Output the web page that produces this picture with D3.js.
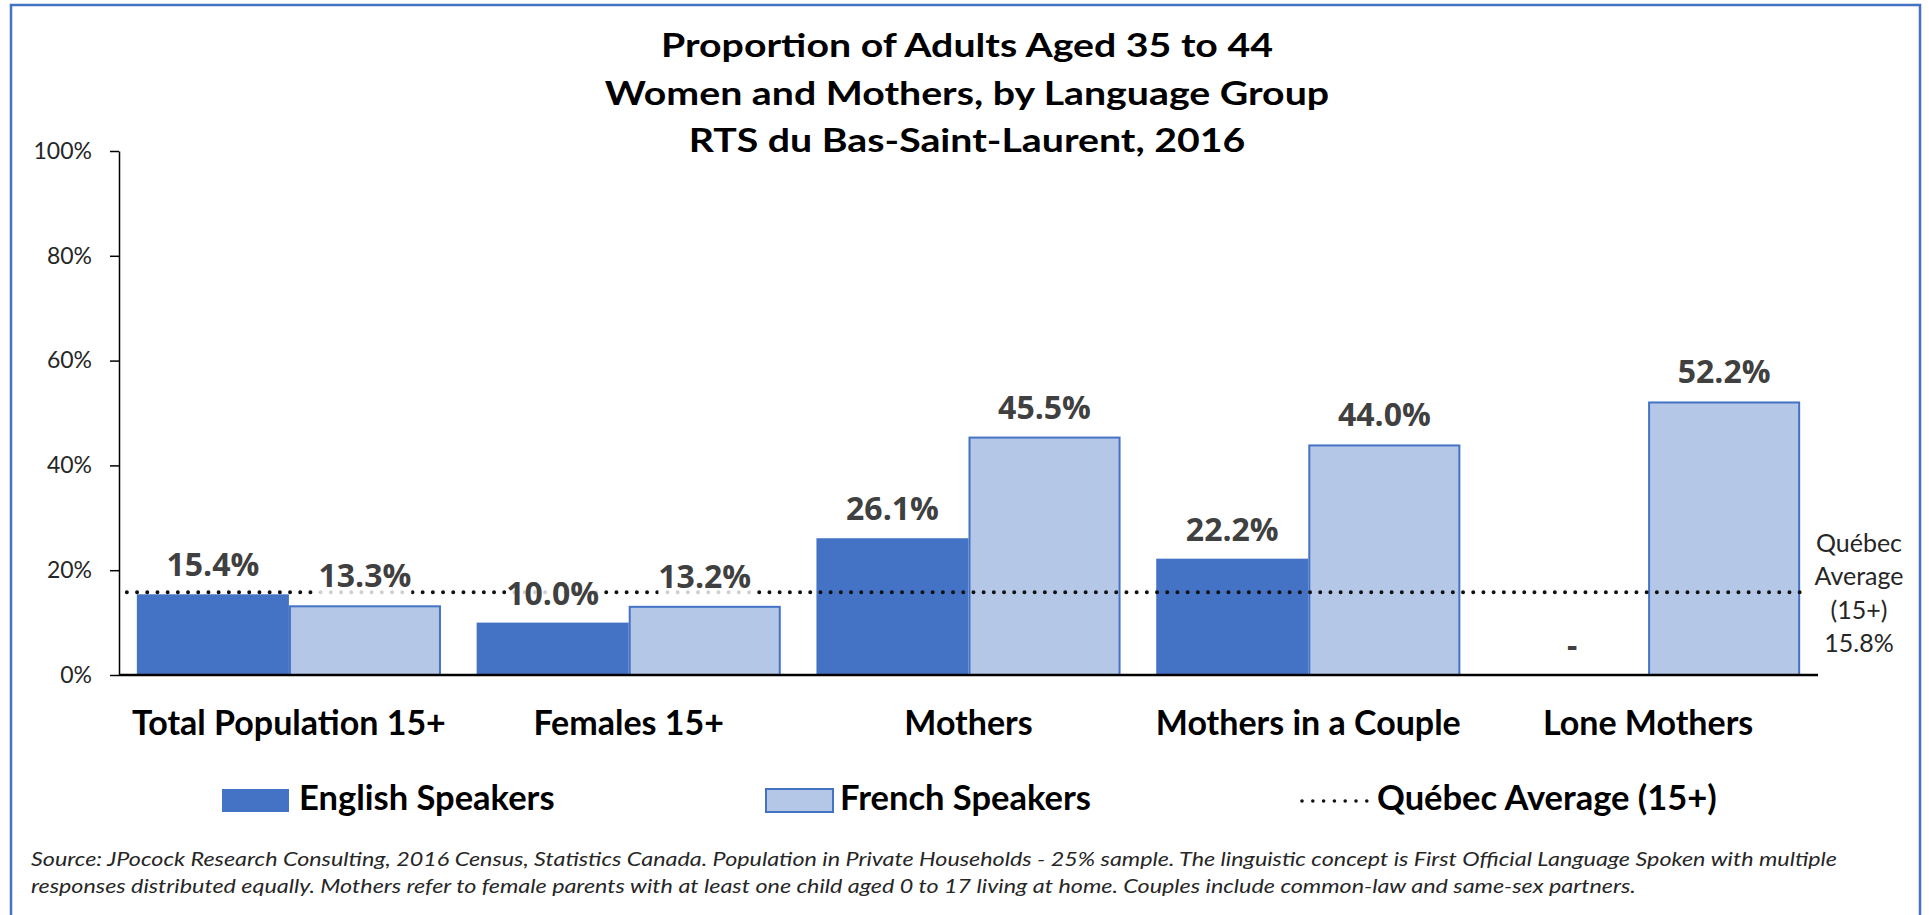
<!DOCTYPE html>
<html><head><meta charset="utf-8">
<script src="https://cdn.jsdelivr.net/npm/d3@7"></script>
<style>body{margin:0;background:#fff} svg{display:block}</style>
</head><body>
<svg id="chart" width="1929" height="915"></svg>
<script>
// ---------------- data ----------------
const titleLines = ["Proportion of Adults Aged 35 to 44", "Women and Mothers, by Language Group", "RTS du Bas-Saint-Laurent, 2016"];
const categories = ["Total Population 15+", "Females 15+", "Mothers", "Mothers in a Couple", "Lone Mothers"];
const seriesNames = ["English Speakers", "French Speakers"];
const englishValues = [15.4, 10.0, 26.1, 22.2, null];
const frenchValues = [13.3, 13.2, 45.5, 44.0, 52.2];
const quebecAverage = 15.8;
const averageName = "Québec Average (15+)";
const averageSideLabel = ["Québec", "Average", "(15+)", "15.8%"];
const yTicks = [0, 20, 40, 60, 80, 100];
const footnoteLines = [
  "Source: JPocock Research Consulting, 2016 Census, Statistics Canada. Population in Private Households - 25% sample. The linguistic concept is First Official Language Spoken with multiple",
  "responses distributed equally. Mothers refer to female parents with at least one child aged 0 to 17 living at home. Couples include common-law and same-sex partners."
];

// ---------------- drawing ----------------
const svg = d3.select("#chart");
const BLUE = "#4472C4", LIGHT = "#B4C7E7", LABEL = "#404040";

svg.append("rect").attr("x", 11).attr("y", 5).attr("width", 1909).attr("height", 940)
  .attr("fill", "#fff").attr("stroke", BLUE).attr("stroke-width", 2.5);

const plot = {left: 119, right: 1818, top: 151, bottom: 675};
const x = d3.scaleBand().domain(categories).range([plot.left, plot.right]).paddingInner(0.105).paddingOuter(0.0525);
const xs = d3.scaleBand().domain(seriesNames).range([0, x.bandwidth()]);
const y = d3.scaleLinear().domain([0, 100]).range([plot.bottom, plot.top]);

// title
const title = svg.append("g");
titleLines.forEach((t, i) => {
  title.append("text").attr("x", 967).attr("y", 57 + i * 47.5)
    .attr("text-anchor", "middle").attr("font-family", "Lato").attr("font-weight", 700)
    .attr("font-size", 32).attr("fill", "#000").text(t);
});
{
  const nodes = title.selectAll("text").nodes();
  const f = 612 / nodes[0].getComputedTextLength();
  nodes.forEach(n => { const l = n.getComputedTextLength(); d3.select(n).attr("textLength", l * f).attr("lengthAdjust", "spacingAndGlyphs"); });
}

// y axis
const yAxis = svg.append("g").attr("transform", `translate(${plot.left},0)`)
  .call(d3.axisLeft(y).tickValues(yTicks).tickFormat(d => d + "%").tickSize(9).tickPadding(18).tickSizeOuter(0));
yAxis.select(".domain").attr("stroke", "#000").attr("stroke-width", 1.5);
yAxis.selectAll(".tick line").attr("stroke", "#000").attr("stroke-width", 1.5);
yAxis.selectAll(".tick text").attr("font-family", "Lato").attr("font-size", 23).attr("fill", "#262626");

// bars
const rows = categories.map((c, i) => ({c, vals: [englishValues[i], frenchValues[i]]}));
const groups = svg.append("g").selectAll("g").data(rows).join("g")
  .attr("transform", d => `translate(${x(d.c)},0)`);
groups.selectAll("rect").data(d => d.vals.map((v, j) => ({s: seriesNames[j], v, j})).filter(e => e.v != null))
  .join("rect")
  .attr("x", e => xs(e.s) + (e.j === 1 ? 1 : 0))
  .attr("width", e => xs.bandwidth() - (e.j === 1 ? 2 : 0))
  .attr("y", e => y(e.v) + (e.j === 1 ? 1 : 0))
  .attr("height", e => y(0) - y(e.v) - (e.j === 1 ? 1 : 0))
  .attr("fill", e => e.j === 0 ? BLUE : LIGHT)
  .attr("stroke", e => e.j === 1 ? BLUE : "none")
  .attr("stroke-width", 2);

// average dotted line
const lastCat = categories[categories.length - 1];
svg.append("line")
  .attr("x1", x(categories[0]) - 10).attr("x2", x(lastCat) + x.bandwidth() + 1)
  .attr("y1", y(quebecAverage)).attr("y2", y(quebecAverage))
  .attr("stroke", "#111").attr("stroke-width", 4).attr("stroke-linecap", "round")
  .attr("stroke-dasharray", "0 10.2");

// data labels
const labelLayer = svg.append("g");
rows.forEach(r => {
  r.vals.forEach((v, j) => {
    const cx = x(r.c) + xs(seriesNames[j]) + xs.bandwidth() / 2;
    const g = labelLayer.append("g");
    const t = g.append("text").attr("x", cx).attr("y", y(v == null ? 0 : v) - 18)
      .attr("text-anchor", "middle").attr("font-family", "Open Sans").attr("font-weight", 700)
      .attr("font-size", 32).attr("fill", LABEL)
      .text(v == null ? "-" : v.toFixed(1) + "%");
    const bb = t.node().getBBox();
    g.insert("rect", "text").attr("x", bb.x).attr("y", bb.y + 4).attr("width", bb.width).attr("height", bb.height)
      .attr("fill", "#fff").attr("opacity", 0.8);
  });
});

// x baseline
svg.append("line").attr("x1", plot.left).attr("x2", plot.right).attr("y1", y(0)).attr("y2", y(0))
  .attr("stroke", "#000").attr("stroke-width", 2.5);

// category labels
svg.append("g").selectAll("text").data(categories).join("text")
  .attr("x", c => x(c) + x.bandwidth() / 2).attr("y", 735)
  .attr("text-anchor", "middle").attr("font-family", "Lato").attr("font-weight", 700)
  .attr("font-size", 34).attr("fill", "#000").text(c => c);

// side label for average
averageSideLabel.forEach((t, i) => {
  svg.append("text").attr("x", 1859).attr("y", 552 + i * 33.3).attr("text-anchor", "middle")
    .attr("font-family", "Lato").attr("font-size", 25).attr("fill", "#262626").text(t);
});

// legend
const legend = svg.append("g");
const legendItems = [
  {name: seriesNames[0], kind: "bar", fill: BLUE, sx: 222, tx: 299},
  {name: seriesNames[1], kind: "bar", fill: LIGHT, sx: 766, tx: 840},
  {name: averageName, kind: "line", sx: 1302, tx: 1377}
];
legendItems.forEach(it => {
  if (it.kind === "bar") {
    legend.append("rect").attr("x", it.sx).attr("y", 789).attr("width", 67).attr("height", 23)
      .attr("fill", it.fill).attr("stroke", it.fill === LIGHT ? BLUE : "none").attr("stroke-width", 2);
  } else {
    legend.append("line").attr("x1", it.sx).attr("x2", it.sx + 65).attr("y1", 801).attr("y2", 801)
      .attr("stroke", "#111").attr("stroke-width", 3.6).attr("stroke-linecap", "round").attr("stroke-dasharray", "0 10.8");
  }
  legend.append("text").attr("x", it.tx).attr("y", 810).attr("font-family", "Lato").attr("font-weight", 700)
    .attr("font-size", 34.5).attr("fill", "#000").text(it.name);
});

// footnote
const foot = svg.append("g");
footnoteLines.forEach((t, i) => {
  foot.append("text").attr("x", 31).attr("y", 866 + i * 26.5).attr("font-family", "Lato").attr("font-style", "italic")
    .attr("font-size", 19).attr("fill", "#262626").text(t);
});
{
  const nodes = foot.selectAll("text").nodes();
  const f = 1806 / nodes[0].getComputedTextLength();
  nodes.forEach(n => { const l = n.getComputedTextLength(); d3.select(n).attr("textLength", l * f).attr("lengthAdjust", "spacingAndGlyphs"); });
}
</script>
</body></html>
